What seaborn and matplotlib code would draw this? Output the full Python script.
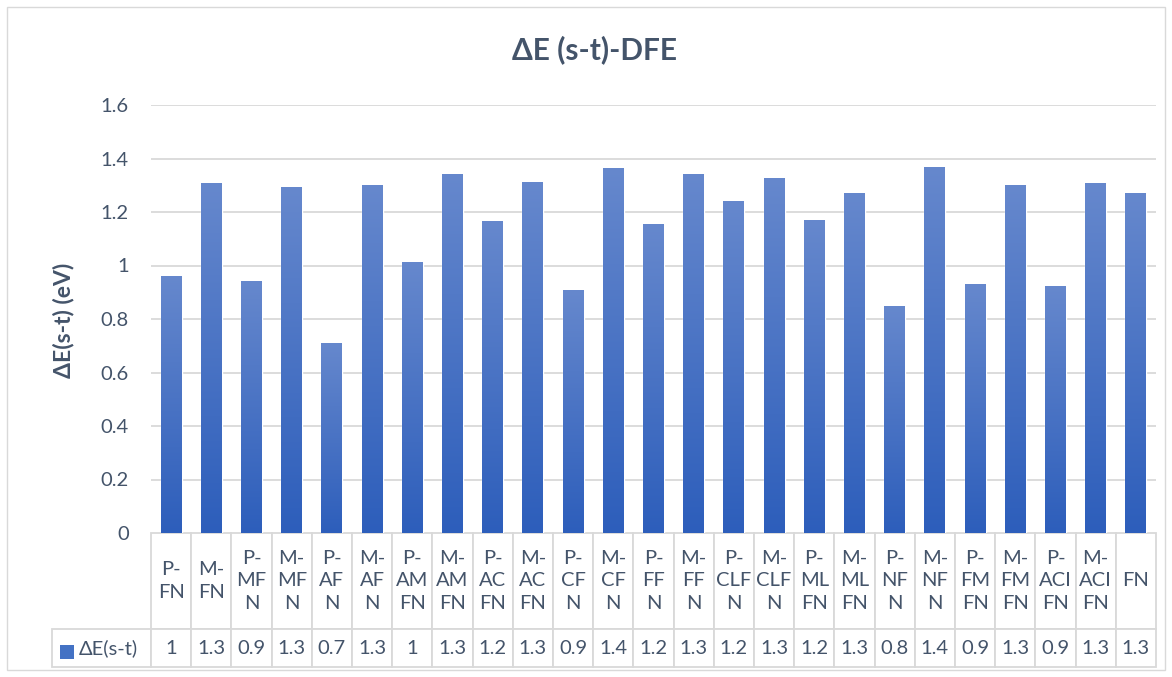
import numpy as np
import pandas as pd
import seaborn as sns
import matplotlib
matplotlib.use("Agg")
import matplotlib.pyplot as plt
from matplotlib.patches import Rectangle
from matplotlib.colors import LinearSegmentedColormap

# data
categories = ['P-FN', 'M-FN', 'P-MFN', 'M-MFN', 'P-AFN', 'M-AFN', 'P-AMFN', 'M-AMFN',
              'P-ACFN', 'M-ACFN', 'P-CFN', 'M-CFN', 'P-FFN', 'M-FFN', 'P-CLFN', 'M-CLFN',
              'P-MLFN', 'M-MLFN', 'P-NFN', 'M-NFN', 'P-FMFN', 'M-FMFN', 'P-ACIFN', 'M-ACIFN', 'FN']
tick_labels = ['P-\nFN', 'M-\nFN', 'P-\nMF\nN', 'M-\nMF\nN', 'P-\nAF\nN', 'M-\nAF\nN',
               'P-\nAM\nFN', 'M-\nAM\nFN', 'P-\nAC\nFN', 'M-\nAC\nFN', 'P-\nCF\nN', 'M-\nCF\nN',
               'P-\nFF\nN', 'M-\nFF\nN', 'P-\nCLF\nN', 'M-\nCLF\nN', 'P-\nML\nFN', 'M-\nML\nFN',
               'P-\nNF\nN', 'M-\nNF\nN', 'P-\nFM\nFN', 'M-\nFM\nFN', 'P-\nACI\nFN', 'M-\nACI\nFN', 'FN']
delta_e = [0.958, 1.306, 0.940, 1.291, 0.708, 1.299, 1.011, 1.340, 1.164, 1.310, 0.906, 1.361,
           1.152, 1.342, 1.241, 1.327, 1.167, 1.268, 0.848, 1.368, 0.928, 1.300, 0.921, 1.308, 1.271]
series_name = 'ΔE(s-t)'
y_ticks = [0, 0.2, 0.4, 0.6, 0.8, 1.0, 1.2, 1.4, 1.6]

TEXT = '#44546A'
GRID = '#D9D9D9'
TOP_BLUE = '#6688CD'
BOTTOM_BLUE = '#2D5EBB'
gradient = LinearSegmentedColormap.from_list('bar', [BOTTOM_BLUE, TOP_BLUE])


def fmt(v):
    s = f'{v:.1f}'
    return s[:-2] if s.endswith('.0') else s


sns.set_theme(style='white')
plt.rcParams['font.family'] = ['Lato', 'DejaVu Sans']

df = pd.DataFrame({'category': categories, 'value': delta_e})

fig = plt.figure(figsize=(11.72, 6.77), dpi=100)
fig.patches.append(Rectangle((7 / 1172, 1 - 670 / 677), 1158 / 1172, 663 / 677,
                             transform=fig.transFigure, fill=False, edgecolor=GRID, lw=1))
ax = fig.add_axes([151 / 1172, 144 / 677, 1005 / 1172, 428 / 677])

sns.barplot(data=df, x='category', y='value', color='#4472C4', width=0.52,
            saturation=1, ax=ax, zorder=2)

# vertical gradient on each bar
grad = np.linspace(1, 0, 256).reshape(-1, 1)
for p in ax.patches:
    x0, w, h = p.get_x(), p.get_width(), p.get_height()
    ax.imshow(grad, cmap=gradient, extent=[x0, x0 + w, 0, h], aspect='auto',
              zorder=3, interpolation='bicubic')

ax.set_xlim(-0.5, len(categories) - 0.5)
ax.set_ylim(0, 1.6)
ax.set_yticks(y_ticks)
ax.set_yticklabels([f'{t:g}' for t in y_ticks])
ax.tick_params(axis='y', length=0, pad=16, labelsize=14.5, labelcolor=TEXT)
ax.set_xticks([])
ax.set_xlabel('')
ax.set_ylabel('')
for t in y_ticks[1:]:
    ax.axhline(t, color=GRID, lw=1.3, zorder=1)
for s in ax.spines.values():
    s.set_visible(False)

# data table under the axis
cell_text = [[''] + tick_labels, [''] + [fmt(v) for v in delta_e]]
table = ax.table(cellText=cell_text, cellLoc='center',
                 bbox=[-99 / 1005, -134 / 428, 1 + 99 / 1005, 134 / 428])
table.auto_set_font_size(False)
table.set_fontsize(14.5)
for (r, c), cell in table.get_celld().items():
    cell.set_width(99 if c == 0 else 40.2)
    cell.set_height(96 if r == 0 else 38)
    cell.set_edgecolor(GRID)
    cell.set_linewidth(1.3)
    cell.get_text().set_color(TEXT)
    cell.get_text().set_linespacing(1.4)
    if r == 0 and c == 0:
        cell.visible_edges = 'open'

# legend key in the row header
ax.add_patch(Rectangle((-91 / 1005, -126 / 428), 14 / 1005, 14 / 428, transform=ax.transAxes,
                       facecolor='#4472C4', edgecolor='none', clip_on=False))
ax.text(-72 / 1005, -115 / 428, series_name, transform=ax.transAxes, ha='left', va='center',
        fontsize=14.5, color=TEXT)

fig.text(595 / 1172, 1 - 50 / 677, 'ΔE (s-t)-DFE', ha='center', va='center',
         fontsize=21.5, fontweight='bold', color=TEXT)
fig.text(63 / 1172, 1 - 320 / 677, 'ΔE(s-t) (eV)', ha='center', va='center', rotation=90,
         fontsize=16.5, fontweight='bold', color=TEXT)

fig.savefig('out.png', dpi=100)
